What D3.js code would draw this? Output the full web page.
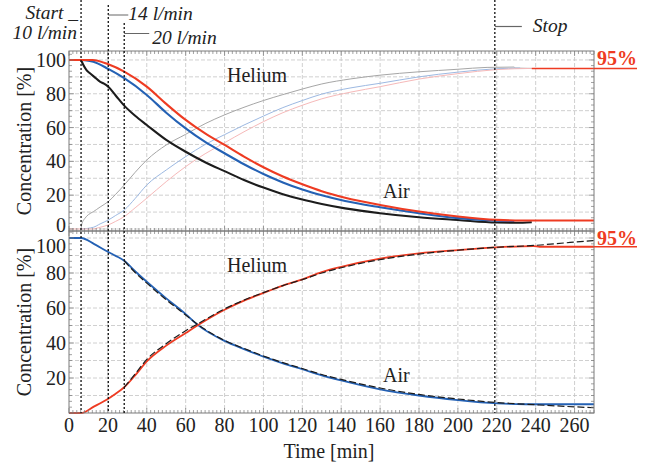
<!DOCTYPE html>
<html><head><meta charset="utf-8">
<script src="https://cdn.jsdelivr.net/npm/d3@7"></script>
<style>
body{margin:0;background:#fff}
svg{display:block}
text{font-family:"Liberation Serif","Times New Roman",serif;fill:#222}
</style>
</head><body>
<svg id="chart" width="651" height="468"></svg>
<script>
// ---------- data ----------
const timeTicks = [0,20,40,60,80,100,120,140,160,180,200,220,240,260];
const topYTicks = [0,20,40,60,80,100];
const bottomYTicks = [20,40,60,80,100];
const eventTimes = [6.2, 20.2, 28.4, 219];
const eventLabels = ["Start _", "14 l/min", "20 l/min", "Stop"];
const startFlowLabel = "10 l/min";
const heliumTarget = 95;
const airTarget = 5;

// top panel: measured air (thick)
const topAirRed = [[0,100],[12,100],[20.2,97.4],[28.4,93.1],[40,84.2],[50,74],[60,64.5],[70,56.5],[80,49.7],[90,42.8],[100,36.5],[110,31],[120,26.4],[130,22.3],[142,18.5],[160,14.2],[180,10.3],[200,7.4],[220,5.4],[233,5],[270,5]];
const topAirBlue = [[6.2,100],[12.5,99],[20.2,94.7],[28.4,89.2],[40,79.3],[50,68.8],[60,59.5],[70,51.5],[80,44.8],[90,38.3],[100,32.5],[110,27.5],[120,23.3],[130,19.9],[142,16.5],[160,12.8],[180,9.3],[200,6.4],[220,4.9],[229,4.7]];
const topAirBlack = [[6.2,100],[7.4,97],[9,94],[10.8,92.1],[13,90],[15.9,87.2],[18,86],[20.2,84.2],[24,79],[28.4,73],[34,67],[40,61.5],[50,52.7],[60,45.7],[70,39.5],[80,34.2],[90,29],[100,24.5],[110,20.6],[120,17.4],[130,14.8],[142,12.2],[160,9.3],[180,6.9],[200,5.3],[220,3.8],[230,3.7],[238,4]];
// top panel: measured helium (thin)
const topHeGray = [[6.2,0],[6.6,3],[8.2,6.3],[10,8.5],[12.5,10.2],[16,13],[20.2,16.2],[24,20.5],[28.4,26],[34,33.5],[40,40.8],[50,49.7],[60,56],[70,62.3],[80,67.5],[90,72],[100,76],[110,79.5],[120,82.8],[130,85.8],[145,88.8],[160,91],[180,93],[200,94.5],[215,95.6],[229,95.8],[229.5,95.2],[238,95]];
const topHeBlue = [[6.2,0],[12.5,1],[16,3],[20.2,5.3],[24,8],[28.4,11.2],[34,18],[40,26],[50,34.9],[60,42.8],[70,50],[80,55.8],[90,61.5],[100,66.8],[110,71.8],[120,76],[130,79.8],[145,83.5],[160,86.2],[180,90],[200,92.8],[220,94.8],[232,95.2]];
const topHePink = [[0,0],[12,0],[16,1],[20.2,2.4],[24,4.5],[28.4,7.3],[34,12.5],[40,18.2],[50,28],[60,36.9],[70,44.5],[80,51],[90,57.5],[100,63.5],[110,68.8],[120,73.2],[130,77],[145,81],[160,84.2],[180,88.7],[200,91.9],[220,94.3],[238,95]];
const topTargetStart = 238;

// bottom panel: measurement (solid) and model (dashed)
const botAirBlue = [[0,100],[6.2,100],[13,96.5],[20.2,92],[24,89.8],[28.4,87],[34,81],[40,75],[50,65.5],[60,56.5],[66,50.5],[80,41.2],[90,36.5],[100,32.2],[110,28.4],[120,25],[130,21.5],[140,18.6],[160,13.5],[180,10],[200,7.4],[220,5.5],[235,5],[270,5]];
const botAirModel = [[28.4,87],[34,80.3],[40,74.2],[50,64.7],[60,56],[66,50.8],[80,41.5],[90,36.9],[100,32.6],[110,28.8],[120,25.4],[130,22],[140,19.2],[160,14.3],[180,10.6],[200,8],[220,6],[240,4.7],[255,3.8],[270,3]];
const botHeRed = [[0,0],[6.2,0],[13,3.8],[20.2,8.2],[24,11],[28.4,14.7],[34,21.5],[40,29.5],[50,38.5],[60,45.7],[66,50],[80,59],[90,64.2],[100,68.6],[110,72.8],[120,76.4],[130,80.5],[140,83.5],[160,88.2],[180,91.2],[200,93.1],[220,94.7],[239,95.4],[242,95],[270,95]];
const botHeModel = [[28.4,14.7],[34,22.3],[40,30.6],[50,39.6],[60,47],[66,50.8],[80,59.5],[90,64.5],[100,68.8],[110,72.8],[120,76.2],[130,80],[140,83],[160,87.6],[180,90.8],[200,93],[220,94.7],[240,95.8],[255,97.2],[270,98.6]];

// ---------- drawing ----------
const svg = d3.select("#chart");
const RED = "#ee3b22", BLUE = "#2461b4", BLACK = "#1c1c1c";
const x = d3.scaleLinear().domain([0,270]).range([69,594]);
const yTop = d3.scaleLinear().domain([-1.2,105.3]).range([231,51]);
const yBot = d3.scaleLinear().domain([0,104]).range([413,231]);

function panel(y, yMin, yMax){
  const g = svg.append("g");
  const [x0,x1] = x.range(); const [yb,yt] = y.range();
  const grid = (x1_,x2_,y1_,y2_) => g.append("line").attr("x1",x1_).attr("x2",x2_).attr("y1",y1_).attr("y2",y2_)
      .attr("stroke","#c4c4c4").attr("stroke-width",0.8).attr("stroke-dasharray","4,2");
  for(let v=0; v<yMax; v+=10){
    if (v<=yMin || (v===0 && yMin===0)) continue;
    grid(x0,x1,y(v),y(v));
  }
  timeTicks.slice(1).forEach(t=> grid(x(t),x(t),yt,yb));
}
function frame(y, yMin, yMax){
  const g = svg.append("g");
  const [x0,x1] = x.range(); const [yb,yt] = y.range();
  g.append("rect").attr("x",x0).attr("y",yt).attr("width",x1-x0).attr("height",yb-yt)
    .attr("fill","none").attr("stroke","#7a7a7a").attr("stroke-width",1);
  for(let t=0; t<=270; t+=2){
    const len = (t%20===0)?5:3;
    g.append("line").attr("x1",x(t)).attr("x2",x(t)).attr("y1",yb).attr("y2",yb-len).attr("stroke","#7a7a7a").attr("stroke-width",0.7);
    g.append("line").attr("x1",x(t)).attr("x2",x(t)).attr("y1",yt).attr("y2",yt+len).attr("stroke","#7a7a7a").attr("stroke-width",0.7);
  }
  for(let k=0; k*10/3<=yMax; k++){
    const v = k*10/3; if (v<yMin) continue;
    const len = (k%6===0)?5:3;
    g.append("line").attr("x1",x0).attr("x2",x0+len).attr("y1",y(v)).attr("y2",y(v)).attr("stroke","#7a7a7a").attr("stroke-width",0.7);
    g.append("line").attr("x1",x1).attr("x2",x1-len).attr("y1",y(v)).attr("y2",y(v)).attr("stroke","#7a7a7a").attr("stroke-width",0.7);
  }
}
function series(y, data, color, width, dash){
  const line = d3.line().x(d=>x(d[0])).y(d=>y(d[1])).curve(d3.curveMonotoneX);
  const p = svg.append("path").datum(data).attr("d",line).attr("fill","none")
    .attr("stroke",color).attr("stroke-width",width).attr("stroke-linejoin","round");
  if (dash) p.attr("stroke-dasharray",dash);
}

panel(yTop, -1.2, 105.3);
panel(yBot, 0, 104);

// top panel curves
series(yTop, topHeGray, "#a6a6a6", 1);
series(yTop, topHeBlue, "#9db9e2", 1);
series(yTop, topHePink, "#f6b9b9", 1);
series(yTop, [[topTargetStart,heliumTarget],[270,heliumTarget]], RED, 1.5);
series(yTop, topAirBlack, BLACK, 2.1);
series(yTop, topAirBlue, BLUE, 2.1);
series(yTop, topAirRed, RED, 2.1);

// bottom panel curves
series(yBot, botAirBlue, BLUE, 1.8);
series(yBot, botHeRed, RED, 1.8);
series(yBot, botAirModel, BLACK, 1.2, "7,3");
series(yBot, botHeModel, BLACK, 1.2, "7,3");

frame(yTop, -1.2, 105.3);
frame(yBot, 0, 104);

// event dotted lines
const eventTop = [0,5,23,0];
eventTimes.forEach((t,i)=>{
  svg.append("line").attr("x1",x(t)).attr("x2",x(t)).attr("y1",eventTop[i]).attr("y2",yBot(0))
    .attr("stroke","#111").attr("stroke-width",1.3).attr("stroke-dasharray","2,2");
});

// event labels
const ital = sel => sel.attr("font-style","italic").attr("font-size",19.5).style("fill","#222");
svg.append("text").call(ital).attr("x",x(eventTimes[0])-3).attr("y",19).attr("text-anchor","end").text(eventLabels[0]);
svg.append("text").call(ital).attr("x",x(eventTimes[0])-4).attr("y",39).attr("text-anchor","end").text(startFlowLabel);
svg.append("line").attr("x1",x(eventTimes[1])).attr("x2",x(eventTimes[1])+20).attr("y1",15).attr("y2",15).attr("stroke","#666").attr("stroke-width",1);
svg.append("text").call(ital).attr("x",x(eventTimes[1])+20).attr("y",20).text(eventLabels[1]);
svg.append("line").attr("x1",x(eventTimes[2])).attr("x2",x(eventTimes[2])+25).attr("y1",33.5).attr("y2",33.5).attr("stroke","#666").attr("stroke-width",1);
svg.append("text").call(ital).attr("x",x(eventTimes[2])+28).attr("y",44).text(eventLabels[2]);
svg.append("line").attr("x1",x(eventTimes[3])).attr("x2",x(eventTimes[3])+27).attr("y1",26.5).attr("y2",26.5).attr("stroke","#666").attr("stroke-width",1.2);
svg.append("text").call(ital).attr("x",x(eventTimes[3])+38).attr("y",32).text(eventLabels[3]);

// target labels
[[yTop,65],[yBot,245]].forEach(([y,base])=>{
  svg.append("text").attr("x",597).attr("y",base).attr("font-size",20).attr("font-weight","bold")
    .style("fill",RED).text(heliumTarget+"%");
  svg.append("line").attr("x1",x(270)).attr("x2",637).attr("y1",y(heliumTarget)).attr("y2",y(heliumTarget))
    .attr("stroke",RED).attr("stroke-width",1.5);
});

// axis tick labels
const fs = 20;
topYTicks.forEach(v=>{
  svg.append("text").attr("x",66).attr("y",yTop(v)).attr("dy",v===0?"0.15em":"0.35em").attr("text-anchor","end").attr("font-size",fs).text(v);
});
bottomYTicks.forEach(v=>{
  svg.append("text").attr("x",66).attr("y",yBot(v)).attr("dy",v===100?"0.75em":"0.35em").attr("text-anchor","end").attr("font-size",fs).text(v);
});
timeTicks.forEach(t=>{
  svg.append("text").attr("x",x(t)).attr("y",432).attr("text-anchor","middle").attr("font-size",fs).text(t);
});
svg.append("text").attr("x",329).attr("y",458).attr("text-anchor","middle").attr("font-size",fs).text("Time [min]");
[[yTop,(yTop(-1.2)+yTop(105.3))/2],[yBot,(yBot(0)+yBot(104))/2]].forEach(([y,cy])=>{
  svg.append("text").attr("transform",`translate(31,${cy}) rotate(-90)`).attr("text-anchor","middle")
    .attr("font-size",fs).text("Concentration [%]");
});

// curve labels
svg.append("text").attr("x",227).attr("y",82).attr("font-size",fs).text("Helium");
svg.append("text").attr("x",383).attr("y",198).attr("font-size",fs).text("Air");
svg.append("text").attr("x",227).attr("y",272).attr("font-size",fs).text("Helium");
svg.append("text").attr("x",383).attr("y",382).attr("font-size",fs).text("Air");
</script>
</body></html>
